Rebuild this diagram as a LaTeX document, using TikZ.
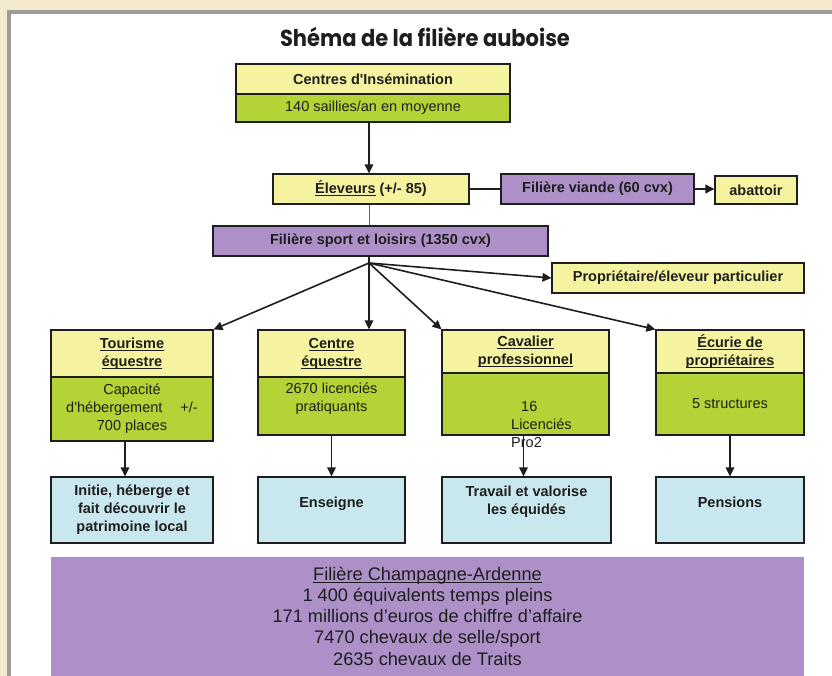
\documentclass[tikz,border=0pt]{standalone}
\usepackage{fontspec}
\setmainfont{Liberation Sans}
\newfontfamily\titlefont{Poppins}
\usetikzlibrary{arrows.meta}
\definecolor{bg}{HTML}{F3E9CD}
\definecolor{framec}{HTML}{9B9B9E}
\definecolor{yel}{HTML}{F6F3A0}
\definecolor{grn}{HTML}{B4D336}
\definecolor{pur}{HTML}{AD90C7}
\definecolor{blu}{HTML}{C8E7EF}
\definecolor{ink}{HTML}{1E1E1E}
\newcommand\myul[1]{\leavevmode\setbox0\hbox{#1}\rlap{\rule[-2.4pt]{\wd0}{0.9pt}}\box0\relax}
\newcommand\boxfont{\fontsize{14.5}{18}\selectfont}
\tikzset{
  box/.style={draw=ink, line width=1.1pt, inner sep=0pt, align=center, text=ink,
    font=\boxfont},
  ybox/.style={box, fill=yel, font=\bfseries\boxfont},
  gbox/.style={box, fill=grn},
  pbox/.style={box, fill=pur, font=\bfseries\boxfont},
  bbox/.style={box, fill=blu, font=\bfseries\boxfont},
  freetext/.style={text=ink, inner sep=0pt, font=\boxfont},
  arr/.style={draw=ink, line width=1.6pt, -{Triangle[length=9pt,width=8.5pt]}},
  plainline/.style={draw=ink, line width=1.6pt},
  greyline/.style={draw=ink!70, line width=1pt},
  titlestyle/.style={text=ink, font=\titlefont\bfseries\fontsize{21}{24}\selectfont, inner sep=0pt},
  bigtext/.style={text=ink, align=center, inner sep=0pt, font=\fontsize{18.2}{21.3}\selectfont}
}
\begin{document}
\begin{tikzpicture}[x=1pt,y=-1pt]
\useasboundingbox (0,0) rectangle (832,676);
\fill[bg] (0,0) rectangle (832,676);
\fill[framec] (7,10) rectangle (832,676);
\fill[white] (11,14) rectangle (832,676);

\node[titlestyle, anchor=base, yscale=1.1] (title) at (425,47) {Shéma de la filière auboise};

% top
\node[ybox, minimum width=274pt, minimum height=30pt] (centh) at (373,79) {Centres d\textquotesingle Insémination};
\node[gbox, minimum width=274pt, minimum height=28pt] (centb) at (373,108) {140 saillies/an en moyenne};
\coordinate (fan) at (369,263);

\node[ybox, minimum width=196pt, minimum height=30pt] (elev) at (371,189) {\myul{Éleveurs} (+/- 85)};
\node[pbox, minimum width=193pt, minimum height=30pt] (viande) at (597.5,189) {Filière viande (60 cvx)};
\node[ybox, minimum width=82pt, minimum height=28pt] (abat) at (756,190) {abattoir};
\node[pbox, minimum width=335pt, minimum height=30pt] (sport) at (380.5,241) {Filière sport et loisirs (1350 cvx)};
\node[ybox, minimum width=252pt, minimum height=30pt] (prop) at (678,278) {Propriétaire/éleveur particulier};

% row 2
\node[ybox, minimum width=162pt, minimum height=47pt] (touh) at (132,353.5) {\myul{Tourisme}\\\myul{équestre}};
\node[gbox, minimum width=162pt, minimum height=64pt] (toub) at (132,409) {Capacité\\d\textquotesingle hébergement\hspace{18pt}+/-\\700 places};
\node[ybox, minimum width=147pt, minimum height=47pt] (ceqh) at (331.5,353.5) {\myul{Centre}\\\myul{équestre}};
\node[gbox, minimum width=147pt, minimum height=58pt] (ceqb) at (331.5,406) {};
\node[freetext, align=center, anchor=base] (ceqt) at (331.5,411) {2670 licenciés\\pratiquants};
\node[ybox, minimum width=167pt, minimum height=43pt] (cavh) at (525.5,351.5) {\myul{Cavalier}\\\myul{professionnel}};
\node[gbox, minimum width=167pt, minimum height=62pt] (cavb) at (525.5,404) {};
\node[freetext, align=left, anchor=base west] (cavt) at (511,447) {\hspace{10pt}16\\Licenciés\\Pro2};
\node[ybox, minimum width=148pt, minimum height=43pt] (ecuh) at (730,351.5) {\myul{Écurie de}\\\myul{propriétaires}};
\node[gbox, minimum width=148pt, minimum height=62pt] (ecub) at (730,404) {5 structures};

% row 3
\node[bbox, minimum width=162pt, minimum height=66pt] (ini) at (132,510) {Initie, héberge et\\fait découvrir le\\patrimoine local};
\node[bbox, minimum width=147pt, minimum height=66pt] (ens) at (331.5,510) {};
\node[freetext, font=\bfseries\boxfont, anchor=base] (enst) at (331.5,507) {Enseigne};
\node[bbox, minimum width=169pt, minimum height=66pt] (tra) at (526.5,510) {};
\node[freetext, align=center, font=\bfseries\boxfont, anchor=base] (trat) at (526.5,514) {Travail et valorise\\les équidés};
\node[bbox, minimum width=148pt, minimum height=66pt] (pen) at (730,510) {};
\node[freetext, font=\bfseries\boxfont, anchor=base] (pent) at (730,507) {Pensions};

% bottom
\node[fill=pur, inner sep=0pt, minimum width=753pt, minimum height=125pt, anchor=north] (champ) at (427.5,557) {};
\node[bigtext] (champt) at (427.5,616) {\myul{Filière Champagne-Ardenne}\\1 400 équivalents temps pleins\\171 millions d’euros de chiffre d’affaire\\7470 chevaux de selle/sport\\2635 chevaux de Traits};

% connectors
\draw[arr] (centb.south -| fan) -- (elev.north -| fan);
\draw[greyline] (elev.south -| fan) -- (sport.north -| fan);
\draw[plainline, line width=2pt] (elev.east) -- (viande.west);
\draw[arr, line width=2pt] (viande.east) -- (viande.east -| abat.west);
\draw[plainline] (sport.south -| fan) -- (fan);
\draw[arr] (fan) -- (prop.west);
\draw[arr] (fan) -- (touh.north east);
\draw[arr] (fan) -- (fan |- ceqh.north);
\draw[arr] (fan) -- (cavh.north west);
\draw[arr] (fan) -- (ecuh.north west);

\draw[arr] ([xshift=-7pt]toub.south) -- ([xshift=-7pt]ini.north);
\draw[arr] (ceqb.south) -- (ens.north);
\draw[arr] ([xshift=-2pt]cavb.south) -- ([xshift=-2pt]cavb.south |- tra.north);
\draw[arr] (ecub.south) -- (pen.north);
\end{tikzpicture}
\end{document}
